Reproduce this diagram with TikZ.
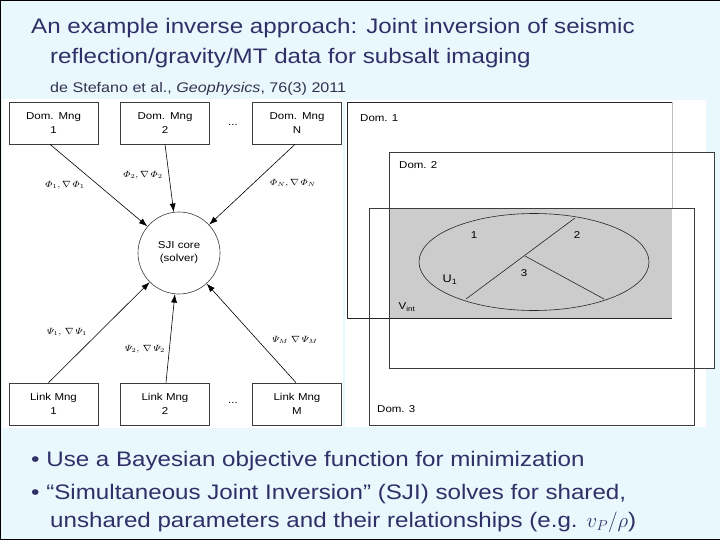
\documentclass[tikz,border=0pt]{standalone}
\usepackage{amsmath}
\usepackage{fontspec}
\usepackage{graphicx}
\setmainfont{Liberation Sans}[FakeStretch=1.15]
\usetikzlibrary{arrows.meta}
\definecolor{slidebg}{RGB}{232,248,252}
\definecolor{titleblue}{RGB}{48,48,104}
\definecolor{subblue}{RGB}{50,50,80}
\definecolor{vintgray}{RGB}{204,204,204}
\definecolor{linegray}{RGB}{60,60,60}
\newcommand{\hstretch}[1]{\scalebox{1.15}[1]{#1}}
\tikzset{
  mngbox/.style={draw=linegray, line width=0.7pt, fill=white, minimum width=89pt, minimum height=42pt,
    text width=89pt, inner sep=0pt, align=center, font=\fontsize{10}{14}\selectfont},
  corenode/.style={draw=linegray, line width=0.6pt, circle, minimum size=82pt, inner sep=0pt,
    text width=60pt, align=center, font=\fontsize{10}{13}\selectfont},
  arr/.style={line width=0.6pt, -{Latex[length=8.5pt,width=6pt]}},
  mathlab/.style={inner sep=0pt, font=\fontsize{9}{10}\selectfont},
  domlab/.style={anchor=base west, inner sep=0pt, font=\fontsize{10}{12}\selectfont},
  numlab/.style={inner sep=0pt, font=\fontsize{10}{12}\selectfont},
  titletext/.style={anchor=base west, inner sep=0pt, text=titleblue, font=\fontsize{21}{24}\selectfont},
  bullettext/.style={anchor=base west, inner sep=0pt, text=titleblue, font=\fontsize{21}{24}\selectfont},
  domrect/.style={draw=linegray, line width=0.7pt}
}
\begin{document}
\begin{tikzpicture}[x=1pt,y=-1pt]
\useasboundingbox (0,0) rectangle (720,540);
\fill[slidebg] (0,0) rectangle (720,540);
\draw[black, line width=2.5pt] (0,540) -- (0,0) -- (720,0);
\draw[black, line width=2.5pt] (0,540) -- (720,540);

% title
\node[titletext] (t1) at (31,34) {An example inverse approach: Joint inversion of seismic};
\node[titletext] (t2) at (50,64) {reflection/gravity/MT data for subsalt imaging};
\node[anchor=base west, inner sep=0pt, text=subblue, font=\fontsize{14}{16}\selectfont] (t3) at (50,93)
  {de Stefano et al., \textit{Geophysics}, 76(3) 2011};

% left panel
\fill[white] (2,99) rectangle (343,428);
\node[mngbox] (dm1) at (53.5,123) {Dom. Mng\\1};
\node[mngbox] (dm2) at (165,123) {Dom. Mng\\2};
\node[mngbox] (dmn) at (297,123) {Dom. Mng\\N};
\node[numlab] (dots1) at (233,125) {...};
\node[mngbox] (lm1) at (53.5,404) {Link Mng\\1};
\node[mngbox] (lm2) at (165,404) {Link Mng\\2};
\node[mngbox] (lmm) at (297,404) {Link Mng\\M};
\node[numlab] (dots2) at (233,403) {...};
\node[corenode] (core) at (179,253) {SJI core\\(solver)};

\draw[arr] ([xshift=-3.5pt]dm1.south) -- (core);
\draw[arr] (dm2.south) -- (core);
\draw[arr] ([xshift=-2pt]dmn.south) -- (core);
\draw[arr] ([xshift=-5pt]lm1.north) -- (core);
\draw[arr] ([xshift=1pt]lm2.north) -- (core);
\draw[arr] ([xshift=-1pt]lmm.north) -- (core);

\node[mathlab] (p1) at (65,185) {\hstretch{$\varPhi_1,\nabla\,\varPhi_1$}};
\node[mathlab] (p2) at (143,175) {\hstretch{$\varPhi_2,\nabla\,\varPhi_2$}};
\node[mathlab] (pn) at (293,183) {\hstretch{$\varPhi_N,\nabla\,\varPhi_N$}};
\node[mathlab] (s1) at (67,332) {\hstretch{$\varPsi_1,\,\nabla\,\varPsi_1$}};
\node[mathlab] (s2) at (145,349) {\hstretch{$\varPsi_2,\,\nabla\,\varPsi_2$}};
\node[mathlab] (sm) at (295,340) {\hstretch{$\varPsi_M\;\nabla\,\varPsi_M$}};

% right panel
\fill[white] (345,100) rectangle (706,427);
\fill[white] (389,152) rectangle (714,368);
\fill[vintgray] (389,208) rectangle (672,318);
\draw[line width=0.7pt, black!85] (672,102) -- (347,102) -- (347,318) -- (672,318);
\draw[line width=0.7pt, black!25] (672,102) -- (672,208);
\draw[domrect] (389,152) rectangle (714,368);
\draw[domrect] (369,208) rectangle (694,425);
\draw[line width=0.6pt, black!85] (534,262) ellipse [x radius=115, y radius=48.5];
\coordinate (ea) at (466,299);
\coordinate (eb) at (575,218);
\coordinate (ej) at (525,256);
\coordinate (ec) at (604,299);
\draw[line width=0.6pt, black!85] (ea) -- (eb);
\draw[line width=0.6pt, black!85] (ej) -- (ec);
\node[domlab] (d1) at (360,122) {Dom. 1};
\node[domlab] (d2) at (399,169) {Dom. 2};
\node[domlab] (d3) at (377,412) {Dom. 3};
\node[numlab] (r1) at (474,235) {1};
\node[numlab] (r2) at (577,235) {2};
\node[numlab] (r3) at (524,273) {3};
\node[numlab, font=\fontsize{11}{12}\selectfont] (u1) at (450,280) {U\textsubscript{1}};
\node[numlab] (vi) at (407,307) {V\textsubscript{int}};

% bullets
\node[bullettext] (b1) at (31,466) {• Use a Bayesian objective function for minimization};
\node[bullettext] (b2) at (31,499) {• “Simultaneous Joint Inversion” (SJI) solves for shared,};
\node[bullettext] (b3) at (50,527) {unshared parameters and their relationships (e.g. $v_P/\rho$)};
\end{tikzpicture}
\end{document}
